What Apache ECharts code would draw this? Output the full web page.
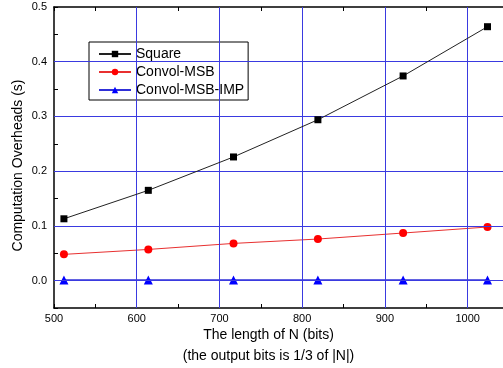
<!DOCTYPE html>
<html>
<head>
<meta charset="utf-8">
<script src="https://cdn.jsdelivr.net/npm/echarts@6/dist/echarts.min.js"></script>
<style>
  html, body { margin: 0; padding: 0; background: #fff; }
  #main { width: 503px; height: 368px; }
</style>
</head>
<body>
<div id="main"></div>
<script>
// N in bits
const nBits = [512, 614, 717, 819, 922, 1024];
// computation overheads (s)
const square = [0.113, 0.165, 0.226, 0.294, 0.374, 0.464];
const convolMsb = [0.048, 0.057, 0.068, 0.076, 0.087, 0.098];
const convolMsbImp = [0.001, 0.001, 0.001, 0.001, 0.001, 0.001];

const seriesNames = ['Square', 'Convol-MSB', 'Convol-MSB-IMP'];

// gridline positions (major ticks)
const xGridTicks = [600, 700, 800, 900, 1000];
const yGridTicks = [0.0, 0.1, 0.2, 0.3, 0.4];

const font = 'Liberation Sans, Arial, sans-serif';
const gridBlue = '#3a3ae0';

function pairs(ys) {
  return nBits.map((x, i) => [x, ys[i]]);
}

let myChart = echarts.init(document.getElementById('main'), null, { renderer: 'canvas' });

// gridlines as markLines on an empty helper series
let gridLines = xGridTicks.map(v => ({ xAxis: v }))
  .concat(yGridTicks.map(v => ({ yAxis: v })));

let option = {
  backgroundColor: '#fff',
  animation: false,
  textStyle: { fontFamily: font },
  legend: {
    orient: 'vertical',
    left: 89,
    top: 42,
    padding: [5, 4, 3, 9],
    itemWidth: 32,
    itemHeight: 8,
    itemGap: 4,
    backgroundColor: '#fff',
    borderColor: '#000',
    borderWidth: 1,
    borderRadius: 0,
    textStyle: { fontFamily: font, fontSize: 14, color: '#000', lineHeight: 14 },
    data: seriesNames
  },
  grid: {
    left: 54,
    top: 7,
    width: 455,
    height: 301,
    containLabel: false,
    outerBoundsMode: 'none'
  },
  xAxis: [
    {
      type: 'value',
      min: 500,
      max: 1050,
      interval: 50,
      position: 'bottom',
      name: 'The length of N (bits)\n(the output bits is 1/3 of |N|)',
      nameLocation: 'middle',
      nameGap: 17,
      nameMoveOverlap: false,
      nameTextStyle: { fontFamily: font, fontSize: 14, color: '#000', lineHeight: 21, padding: [0, 26, 0, 0] },
      axisLine: { onZero: false, lineStyle: { color: '#000', width: 1.5 } },
      axisTick: { inside: true, length: 4, lineStyle: { color: '#000' } },
      axisLabel: {
        fontFamily: font, fontSize: 11, color: '#000', margin: 5,
        formatter: v => (v % 100 === 0 ? String(v) : '')
      },
      splitLine: { show: false }
    },
    {
      type: 'value',
      min: 500,
      max: 1050,
      interval: 50,
      position: 'top',
      axisLine: { onZero: false, lineStyle: { color: '#000', width: 1.5 } },
      axisTick: { inside: true, length: 4, lineStyle: { color: '#000' } },
      axisLabel: { show: false },
      splitLine: { show: false }
    }
  ],
  yAxis: {
    type: 'value',
    min: -0.05,
    max: 0.5,
    interval: 0.05,
    name: 'Computation Overheads (s)',
    nameLocation: 'middle',
    nameGap: 29,
    nameMoveOverlap: false,
    nameTextStyle: { fontFamily: font, fontSize: 14, color: '#000', padding: [0, 16, 0, 0] },
    axisLine: { onZero: false, lineStyle: { color: '#000', width: 1.5 } },
    axisTick: { inside: true, length: 4, lineStyle: { color: '#000' } },
    axisLabel: {
      fontFamily: font, fontSize: 11, color: '#000', margin: 7,
      formatter: v => (Math.round(v * 100) % 10 === 0 ? v.toFixed(1) : '')
    },
    splitLine: { show: false }
  },
  series: [
    {
      name: 'grid',
      type: 'line',
      data: [],
      silent: true,
      z: 1,
      markLine: {
        silent: true,
        symbol: 'none',
        label: { show: false },
        lineStyle: { color: gridBlue, width: 1, type: 'solid', opacity: 1 },
        emphasis: { disabled: true },
        data: gridLines
      }
    },
    {
      name: seriesNames[0],
      type: 'line',
      data: pairs(square),
      symbol: 'rect',
      symbolSize: 7,
      color: '#000',
      lineStyle: { color: '#222', width: 1 },
      itemStyle: { color: '#000' },
      z: 5
    },
    {
      name: seriesNames[1],
      type: 'line',
      data: pairs(convolMsb),
      symbol: 'circle',
      symbolSize: 8,
      color: '#ff0000',
      lineStyle: { color: '#e83030', width: 1 },
      itemStyle: { color: '#ff0000' },
      z: 4
    },
    {
      name: seriesNames[2],
      type: 'line',
      data: pairs(convolMsbImp),
      symbol: 'triangle',
      symbolSize: 9,
      color: '#0000ff',
      lineStyle: { color: '#3030d8', width: 1.5 },
      itemStyle: { color: '#0000ff' },
      z: 3
    }
  ]
};

myChart.setOption(option);
</script>
</body>
</html>
